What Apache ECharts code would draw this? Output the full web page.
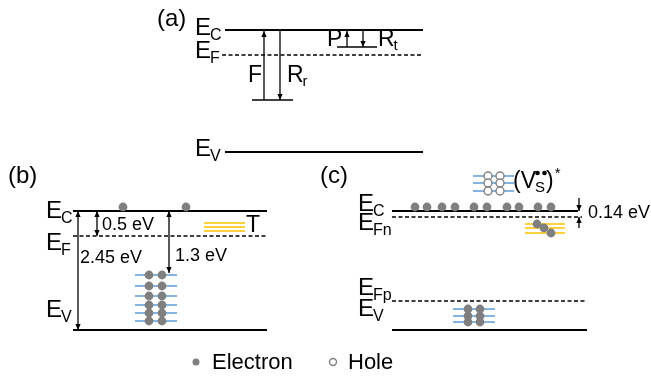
<!DOCTYPE html>
<html><head><meta charset="utf-8">
<script src="https://cdn.jsdelivr.net/npm/echarts@6/dist/echarts.min.js"></script>
<style>html,body{margin:0;padding:0;background:#fff}#c{width:651px;height:379px}</style>
</head><body><div id="c"></div><script>
const FONT = '"Liberation Sans", Arial, Helvetica, sans-serif';

// energy levels: [xStart, xEnd, y]
const solidLevels = [[225,423,30],[225,423,152],[73,267,211],[73,267,330],[392,578,211],[392,587,330]];
const dashedLevels = [[222,423,55],[73,267,236],[392,582,217],[392,587,301]];
const thinLevels = [[252,293,100],[337,377,47]];
const blueStates = [[135,177,275],[135,177,286],[135,177,296],[135,177,305],[135,177,313],[135,177,321],
  [473,514,176],[473,514,183],[473,514,191],
  [453,495,309],[453,495,316],[453,495,322]];
const orangeStates = [[204,245,223],[204,245,227],[204,245,231],[525,565,224],[525,565,228],[525,565,233]];
// arrows: [x, yFrom, yTo, heads (1 = at end, 2 = both ends)]
const arrows = [[264,100,31,1],[280,31,100,1],[347,47,31,1],[363,31,47,1],
  [97,211,236,2],[78,211,330,2],[169,211,273,2],
  [579,198,211,1],[579,228,217,1]];
// carriers: [x, y]
const electrons = [[123,207],[186,207],
  [149,275],[162,275],[149,286],[162,286],[149,296],[162,296],[149,305],[162,305],[149,313],[162,313],[149,321],[162,321],
  [415,207],[427,207],[442,207],[455,207],[474,207],[487,207],[507,207],[519,207],[538,207],[551,207],
  [537,224],[544,228],[551,233],
  [468,309],[480,309],[468,316],[480,316],[468,322],[480,322]];
const holes = [[488,176],[500,176],[488,183],[500,183],[488,191],[500,191]];
const legendElectron = [[196,362]];
const legendHole = [[333,362]];
// labels: [main, subscript, x, baseline]
const levelLabels = [['E','C',195,37],['E','F',195,60],['E','V',195,158],
  ['E','C',46,220],['E','F',46,252],['E','V',46,319],
  ['E','C',358,213],['E','Fn',358,232],['E','Fp',358,297],['E','V',358,318]];
const symbolLabels = [['F','',248,83],['R','r',287,83],['P','',327,47],['R','t',378,47],['T','',246,233]];
const valueLabels = [['0.5 eV',102,231],['2.45 eV',80,264],['1.3 eV',175,262],['0.14 eV',588,219]];
const panelLabels = [['(a)',157,28],['(b)',8,185],['(c)',320,185]];
const legendLabels = [['Electron',212,370],['Hole',348,370]];
const defectLabel = [['(V','S',')','*',513,189]];

const mctx = document.createElement('canvas').getContext('2d');
function tw(t, s){ mctx.font = s + 'px ' + FONT; return mctx.measureText(t).width; }
function txt(t, x, baseline, size){
  return {type:'text', x:x, y:baseline - 0.34*size,
    style:{text:t, fontSize:size, fontFamily:FONT, fill:'#000', align:'left', verticalAlign:'middle'}};
}

function segSeries(arr, color, width, dash){
  return {type:'custom', coordinateSystem:'cartesian2d', clip:false, silent:true,
    data: arr.map(d => [d[0], d[2]]),
    renderItem: (p, api) => {
      const d = arr[p.dataIndex];
      const a = api.coord([d[0], d[2]]), b = api.coord([d[1], d[2]]);
      return {type:'line', shape:{x1:a[0], y1:a[1], x2:b[0], y2:b[1]},
        style:{stroke:color, lineWidth:width, lineDash:dash || null}};
    }};
}
function dotSeries(arr, r, filled){
  return {type:'custom', coordinateSystem:'cartesian2d', clip:false, silent:true,
    data: arr,
    renderItem: (p, api) => {
      const c = api.coord([api.value(0), api.value(1)]);
      return {type:'circle', shape:{cx:c[0], cy:c[1], r:r},
        style: filled ? {fill:'#7f7f7f'} : {fill:'#fff', stroke:'#7f7f7f', lineWidth:1.4}};
    }};
}
function head(x, tip, dir){ // dir = +1 pointing down, -1 pointing up
  return {type:'polygon', shape:{points:[[x, tip],[x-2.6, tip - dir*6],[x+2.6, tip - dir*6]]}, style:{fill:'#000'}};
}
const arrowSeries = {type:'custom', coordinateSystem:'cartesian2d', clip:false, silent:true,
  data: arrows.map(d => [d[0], d[1]]),
  renderItem: (p, api) => {
    const d = arrows[p.dataIndex];
    const a = api.coord([d[0], d[1]]), b = api.coord([d[0], d[2]]);
    const dir = b[1] > a[1] ? 1 : -1;
    const ch = [{type:'line', shape:{x1:a[0], y1:a[1], x2:b[0], y2:b[1]}, style:{stroke:'#000', lineWidth:1.3}},
      head(b[0], b[1], dir)];
    if (d[3] === 2) ch.push(head(a[0], a[1], -dir));
    return {type:'group', children:ch};
  }};
function labelSeries(arr, size, subSize){
  return {type:'custom', coordinateSystem:'cartesian2d', clip:false, silent:true,
    data: arr.map(d => [d[d.length-2], d[d.length-1]]),
    renderItem: (p, api) => {
      const d = arr[p.dataIndex];
      const c = api.coord([d[d.length-2], d[d.length-1]]);
      const ch = [txt(d[0], c[0], c[1], size)];
      if (subSize && d[1]) ch.push(txt(d[1], c[0] + tw(d[0], size) - 1, c[1] + 4, subSize));
      return {type:'group', children:ch};
    }};
}
const defectSeries = {type:'custom', coordinateSystem:'cartesian2d', clip:false, silent:true,
  data: defectLabel.map(d => [d[4], d[5]]),
  renderItem: (p, api) => {
    const d = defectLabel[p.dataIndex];
    const c = api.coord([d[4], d[5]]);
    let x = c[0];
    const ch = [txt(d[0], x, c[1], 23)];
    x += tw(d[0], 23) - 1;
    ch.push(txt(d[1], x, c[1] + 4, 15));
    // the two "••" charge dots stacked above the subscript
    ch.push({type:'circle', shape:{cx:x + 2.5, cy:c[1] - 16, r:2.3}, style:{fill:'#000'}});
    ch.push({type:'circle', shape:{cx:x + 9.5, cy:c[1] - 16, r:2.3}, style:{fill:'#000'}});
    x += tw(d[1], 15) + 1;
    ch.push(txt(d[2], x, c[1], 23));
    x += tw(d[2], 23) + 1;
    ch.push(txt(d[3], x, c[1] - 10, 15));
    return {type:'group', children:ch};
  }};

const chart = echarts.init(document.getElementById('c'), null, {renderer:'canvas'});
chart.setOption({
  animation:false,
  backgroundColor:'#fff',
  grid:{left:0, right:0, top:0, bottom:0},
  xAxis:{type:'value', min:0, max:651, show:false},
  yAxis:{type:'value', min:0, max:379, inverse:true, show:false},
  series:[
    segSeries(blueStates, '#5b9bd5', 1.5),
    segSeries(orangeStates, '#ffc000', 1.5),
    segSeries(solidLevels, '#000', 2),
    segSeries(dashedLevels, '#000', 1.5, [4,2.5]),
    segSeries(thinLevels, '#000', 1.6),
    arrowSeries,
    dotSeries(electrons, 4.4, true),
    dotSeries(holes, 4, false),
    dotSeries(legendElectron, 3.5, true),
    dotSeries(legendHole, 3.5, false),
    labelSeries(levelLabels, 24, 16),
    labelSeries(symbolLabels, 23, 15),
    labelSeries(valueLabels, 18),
    labelSeries(panelLabels, 24),
    labelSeries(legendLabels, 22),
    defectSeries
  ]
});
</script></body></html>
